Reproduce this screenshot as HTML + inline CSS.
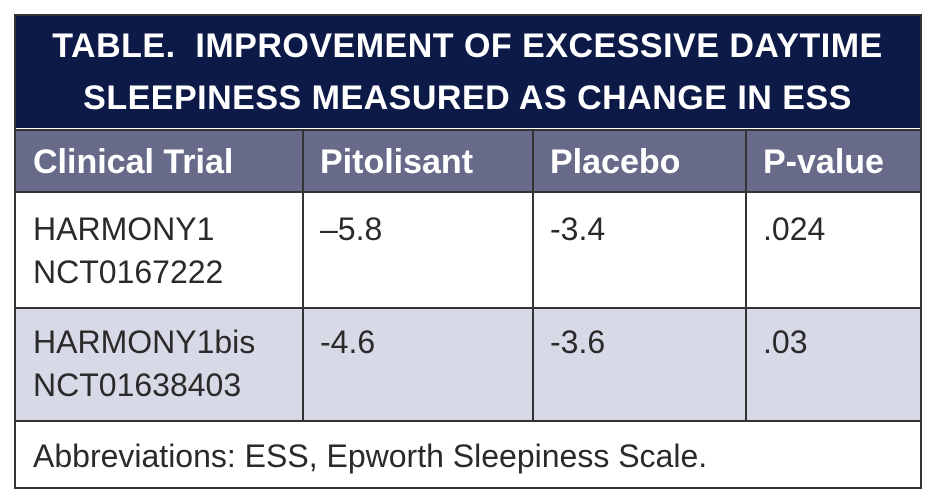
<!DOCTYPE html>
<html><head><meta charset="utf-8"><style>
body{margin:0;width:935px;height:502px;background:#fff;font-family:"Liberation Sans",sans-serif;overflow:hidden}
.a{position:absolute;box-sizing:border-box}
.t{position:absolute;color:#fff;font-weight:bold;font-size:34px;width:907px;left:14px;text-align:center;letter-spacing:0.5px}
.h{position:absolute;color:#fff;font-weight:bold;font-size:34px;top:143px}
.c{position:absolute;color:#2a2a2a;font-size:32px;line-height:43px}
.v{position:absolute;background:#333;width:2px}
</style></head><body>
<div class="a" style="left:14px;top:14px;width:908px;height:475px;border:2px solid #333;background:#fff"></div>
<div class="a" style="left:16px;top:16px;width:904px;height:112px;background:#0d1a48"></div>
<div class="t" style="top:27px">TABLE.&nbsp; IMPROVEMENT OF EXCESSIVE DAYTIME</div>
<div class="t" style="top:79px">SLEEPINESS MEASURED AS CHANGE IN ESS</div>
<div class="a" style="left:16px;top:129px;width:904px;height:64px;background:#686a8a;border-top:2px solid #333;border-bottom:2px solid #333"></div>
<div class="a" style="left:16px;top:307px;width:904px;height:115px;background:#d8d9e6;border-top:2px solid #333;border-bottom:2px solid #333"></div>
<div class="v" style="left:302px;top:129px;height:293px"></div>
<div class="v" style="left:532px;top:129px;height:293px"></div>
<div class="v" style="left:745px;top:129px;height:293px"></div>
<div class="h" style="left:33px">Clinical Trial</div>
<div class="h" style="left:320px">Pitolisant</div>
<div class="h" style="left:550px">Placebo</div>
<div class="h" style="left:763px">P-value</div>
<div class="c" style="left:33px;top:208px">HARMONY1<br>NCT0167222</div>
<div class="c" style="left:320px;top:208px">–5.8</div>
<div class="c" style="left:550px;top:208px">-3.4</div>
<div class="c" style="left:763px;top:208px">.024</div>
<div class="c" style="left:33px;top:321px">HARMONY1bis<br>NCT01638403</div>
<div class="c" style="left:320px;top:321px">-4.6</div>
<div class="c" style="left:550px;top:321px">-3.6</div>
<div class="c" style="left:763px;top:321px">.03</div>
<div class="c" style="left:33px;top:435px">Abbreviations: ESS, Epworth Sleepiness Scale.</div>
</body></html>
